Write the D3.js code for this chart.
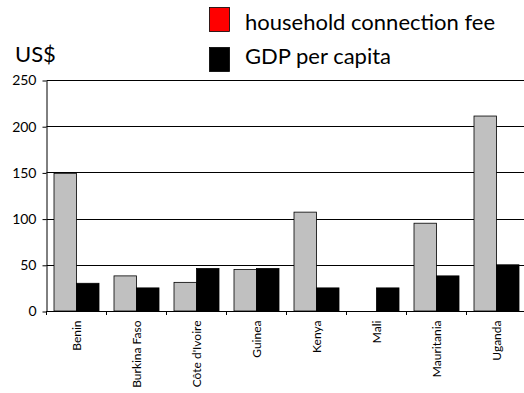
<!DOCTYPE html>
<html><head><meta charset="utf-8">
<script src="https://cdn.jsdelivr.net/npm/d3@7"></script>
<style>body{margin:0;background:#fff}svg{display:block}</style>
</head><body>
<svg id="c" width="524" height="393"></svg>
<script>
const categories = ["Benin","Burkina Faso","Côte d'Ivoire","Guinea","Kenya","Mali","Mauritania","Uganda"];
const connectionFee = [149, 38, 31, 45, 107, 0, 95, 211];
const gdpPerCapita = [30, 25, 46, 46, 25, 25, 38, 50];
const yTicks = [0, 50, 100, 150, 200, 250];
const seriesNames = ["household connection fee", "GDP per capita"];

(function(){
const font = "'Century Gothic','URW Gothic','Lato','DejaVu Sans',sans-serif";
const svg = d3.select("#c");
const mLeft = 46.5, mRight = 526.5, mTop = 80, mBottom = 311;
const x = d3.scaleBand().domain(categories).range([mLeft, mRight]).paddingInner(0).paddingOuter(0);
const y = d3.scaleLinear().domain([0, 250]).range([mBottom, mTop]);
const inner = d3.scaleBand().domain([0,1]).range([0, 45]);

// gridlines
svg.append("g").selectAll("line").data(yTicks.filter(d=>d>0)).join("line")
  .attr("x1", mLeft).attr("x2", 524).attr("y1", d=>Math.round(y(d))+0.5).attr("y2", d=>Math.round(y(d))+0.5)
  .attr("stroke","#000").attr("stroke-width",1);

// bars
const g = svg.append("g");
categories.forEach((c,i)=>{
  const x0 = x(c) + 7.5;
  if (connectionFee[i] > 0)
    g.append("rect").attr("x", x0 + inner(0)).attr("width", inner.bandwidth())
      .attr("y", y(connectionFee[i])).attr("height", y(0)-y(connectionFee[i]))
      .attr("fill","#c0c0c0").attr("stroke","#000").attr("stroke-width",0.8);
  g.append("rect").attr("x", x0 + inner(1)).attr("width", inner.bandwidth())
    .attr("y", y(gdpPerCapita[i])).attr("height", y(0)-y(gdpPerCapita[i]))
    .attr("fill","#000").attr("stroke","#000").attr("stroke-width",0.8);
});

// y axis
const ya = svg.append("g").attr("transform",`translate(${mLeft},0.5)`)
  .call(d3.axisLeft(y).tickValues(yTicks).tickSize(4).tickPadding(6).tickSizeOuter(0));
ya.select(".domain").attr("stroke","#000");
ya.selectAll("line").attr("stroke","#000");
ya.selectAll("text").attr("font-family",font).attr("font-size",14).attr("fill","#000");

// x axis
const xa = svg.append("g").attr("transform",`translate(0,${mBottom+0.5})`)
  .call(d3.axisBottom(x).tickSize(0).tickSizeOuter(0));
xa.select(".domain").attr("stroke","#000").attr("d", `M${mLeft},0H524`);
xa.selectAll(".tick text").attr("font-family",font).attr("font-size",12).attr("fill","#000")
  .attr("transform","rotate(-90)").attr("text-anchor","end").attr("dx","-9").attr("dy","0.35em").attr("y",0).attr("x",0);
// boundary ticks
svg.append("g").selectAll("line").data(categories).join("line")
  .attr("x1", d=>x(d)).attr("x2", d=>x(d)).attr("y1", mBottom).attr("y2", mBottom+4)
  .attr("stroke","#000");

// labels
svg.append("text").attr("x",15).attr("y",62).text("US$")
  .attr("font-family",font).attr("font-size",22).attr("fill","#000");

const colors = ["#ff0000","#000000"];
const leg = svg.append("g");
seriesNames.forEach((s,i)=>{
  leg.append("rect").attr("x",209.5).attr("y",7.5+i*40).attr("width",20).attr("height",24)
    .attr("fill",colors[i]).attr("stroke","#000").attr("stroke-width",0.8);
  leg.append("text").attr("x",245).attr("y",29.5+i*34.5).text(s)
    .attr("font-family",font).attr("font-size",22).attr("fill","#000");
});
})();
</script>
</body></html>
